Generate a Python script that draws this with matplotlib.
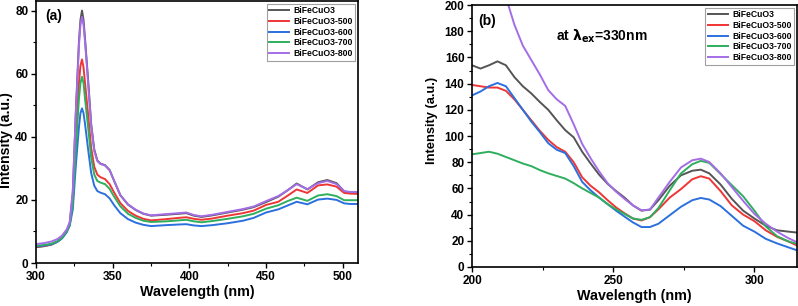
import numpy as np
import matplotlib
matplotlib.use("Agg")
from matplotlib import pyplot as plt
from matplotlib.ticker import MultipleLocator

plt.rcParams['font.family'] = ['Liberation Sans', 'DejaVu Sans']
plt.rcParams['font.weight'] = 'bold'

names = ['BiFeCuO3', 'BiFeCuO3-500', 'BiFeCuO3-600', 'BiFeCuO3-700', 'BiFeCuO3-800']
colors = ['#555555', '#f03535', '#2b70de', '#2fae5e', '#a46de6']

# (a) emission spectra
wl_a = [300, 305, 310, 314, 317, 320, 322, 324, 326, 328, 329, 330, 331, 332, 334, 336,
        338, 340, 342, 345, 348, 351, 355, 360, 365, 370, 375, 385, 393, 398, 403, 408,
        415, 425, 435, 442, 450, 458, 464, 470, 477, 484, 490, 496, 501, 505, 510]
a_base = [5.0, 5.3, 5.8, 6.8, 8.0, 10, 12.5, 22, 48, 70, 77, 80, 77, 71, 58, 44,
          36, 32.5, 31.5, 31, 29.5, 26, 21.5, 18.5, 16.8, 15.6, 15, 15.3, 15.6, 15.8, 15, 14.6,
          15.1, 16, 16.9, 17.7, 19.3, 21, 23, 25.2, 23.3, 25.6, 26.3, 25.3, 22.7, 22.3, 22.3]
a_500 = [5.2, 5.4, 5.9, 6.8, 8.0, 10, 12.3, 20, 40, 57, 62.5, 64.5, 62, 57, 47, 36.5,
         30.5, 28, 27.2, 26.6, 25, 22.3, 19, 16.5, 15, 14, 13.5, 13.9, 14.3, 14.5, 14, 13.7,
         14.1, 15, 15.8, 16.6, 18.4, 19.4, 21.3, 23.3, 22.2, 24.6, 24.9, 24.2, 22.2, 22, 21.9]
a_600 = [5.3, 5.5, 5.9, 6.7, 7.8, 9.7, 11.8, 17, 31, 43, 47.5, 49, 47.5, 44, 36, 28.5,
         24.5, 22.8, 22.3, 21.8, 20.5, 18.3, 15.8, 13.9, 12.8, 12.1, 11.7, 12, 12.2, 12.3, 11.9, 11.7,
         12, 12.6, 13.4, 14.3, 16, 17, 18.2, 19.4, 18.6, 20.1, 20.4, 20, 18.9, 18.7, 18.7]
a_700 = [5.5, 5.7, 6.1, 6.9, 8.0, 10, 12.2, 19, 36, 52, 57, 59, 57, 52, 43, 33.5,
         28, 26, 25.5, 25, 23.5, 21, 18, 15.6, 14.3, 13.4, 13, 13.2, 13.5, 13.7, 13.2, 12.9,
         13.3, 14, 14.8, 15.6, 17.2, 18.3, 19.6, 20.7, 19.7, 21.4, 21.8, 21.2, 19.9, 19.9, 19.9]
a_800 = [6.0, 6.3, 6.8, 7.6, 8.7, 10.6, 13, 23, 48, 69, 75.5, 78, 75.5, 70, 57, 43.5,
         35.5, 32.3, 31.4, 30.9, 29.4, 26, 21.5, 18.6, 16.9, 15.7, 15.1, 15.5, 15.8, 16, 15.2, 14.8,
         15.3, 16.2, 17.1, 17.9, 19.6, 21.2, 23, 25, 23.4, 25.3, 26, 25, 22.8, 22.5, 22.5]

# (b) excitation spectra at 330 nm
wl_b = [200, 203, 206, 209, 212, 215, 218, 221, 224, 227, 230, 233, 236, 239, 242, 245,
        248, 251, 254, 257, 260, 263, 266, 270, 274, 278, 281, 284, 288, 292, 296, 300,
        304, 308, 312, 315]
b_base = [154, 151.5, 154, 157, 154, 145, 138, 132.5, 126, 120, 112, 104.5, 99, 88, 79, 70.5,
          63.5, 58, 53, 47, 43, 43.8, 51, 62, 70, 73.5, 74.3, 71.5, 63, 52, 43, 37,
          31.5, 28, 27, 26.3]
b_500 = [139, 138, 137, 137, 134.5, 128, 120, 112, 104, 97, 91.5, 88, 80, 68.5, 62, 57,
         51, 45.5, 41, 37, 35.5, 38, 44, 53, 59.5, 67, 69.3, 67.5, 58, 47, 40, 35,
         28, 23, 19.5, 16.5]
b_600 = [131, 134, 138, 140.5, 138, 129, 120, 111, 103, 94.5, 89.5, 87, 77, 65, 58.5, 53,
         48, 43, 38.5, 34, 30.5, 30.5, 33, 39.5, 46, 51, 52.7, 51.5, 46.5, 39, 31.5, 27,
         21.5, 18, 15, 12.8]
b_700 = [86, 87, 88, 86.5, 84, 81.5, 79, 77, 74, 71.5, 69.5, 67.5, 64, 60, 56.5, 53,
         48, 44, 40.5, 37, 36, 38, 45, 58.5, 71.5, 78.5, 81, 79.5, 71, 62.5, 54, 43,
         31, 23.5, 19.5, 17.8]
b_800 = [280, 258, 238, 222, 206, 185, 169, 158, 147, 135, 128, 123, 109, 94, 83, 73,
         64, 57.5, 52, 47, 43.3, 43.8, 53, 65, 76, 81.5, 82.7, 80.2, 71.5, 61, 50.5, 40.5,
         33, 27, 22, 19]

fig = plt.figure(figsize=(7.98, 3.06), dpi=100)
ax1 = fig.add_axes([0.0451, 0.1405, 0.4035, 0.856])
ax2 = fig.add_axes([0.5915, 0.1275, 0.407, 0.856])

for ys, c, n in zip([a_base, a_500, a_600, a_700, a_800], colors, names):
    ax1.plot(wl_a, ys, color=c, lw=1.4, label=n)
for ys, c, n in zip([b_base, b_500, b_600, b_700, b_800], colors, names):
    ax2.plot(wl_b, ys, color=c, lw=1.4, label=n)

ax1.set_xlim(300, 510)
ax1.set_ylim(0, 83)
ax1.xaxis.set_major_locator(MultipleLocator(50))
ax1.xaxis.set_minor_locator(MultipleLocator(25))
ax1.yaxis.set_major_locator(MultipleLocator(20))
ax1.yaxis.set_minor_locator(MultipleLocator(10))
ax1.text(0.03, 0.97, '(a)', transform=ax1.transAxes, fontsize=10, fontweight='bold', va='top')
ax1.set_ylabel('Intensity (a.u.)', fontsize=10.2, fontweight='bold', labelpad=1)
ax1.yaxis.set_label_coords(-0.071, 0.47)

ax2.set_xlim(200, 315)
ax2.set_ylim(0, 200)
ax2.xaxis.set_major_locator(MultipleLocator(50))
ax2.xaxis.set_minor_locator(MultipleLocator(25))
ax2.yaxis.set_major_locator(MultipleLocator(20))
ax2.yaxis.set_minor_locator(MultipleLocator(10))
ax2.text(0.018, 0.965, '(b)', transform=ax2.transAxes, fontsize=10, fontweight='bold', va='top')
ax2.text(0.26, 0.915, r'at $\mathbf{\lambda_{ex}}$=330nm', transform=ax2.transAxes,
         fontsize=10, fontweight='bold', va='top')
ax2.set_ylabel('Intensity (a.u.)', fontsize=9.3, fontweight='bold', labelpad=1)
ax2.yaxis.set_label_coords(-0.104, 0.56)

for ax in (ax1, ax2):
    ax.set_xlabel('Wavelength (nm)', fontsize=10.3, fontweight='bold', labelpad=2)
    ax.tick_params(which='major', direction='out', length=3.5, width=1, labelsize=8.5, pad=2)
    ax.tick_params(which='minor', direction='out', length=2, width=0.8)
    for lab in ax.get_xticklabels() + ax.get_yticklabels():
        lab.set_fontweight('bold')
    for s in ax.spines.values():
        s.set_linewidth(1.2)
    leg = ax.legend(loc='upper right', fontsize=6.2, fancybox=False, edgecolor='#888888',
                    handlelength=2.3, handletextpad=0.5, borderpad=0.3, labelspacing=0.2,
                    borderaxespad=0.3)
    leg.get_frame().set_linewidth(0.8)
    for t in leg.get_texts():
        t.set_fontweight('bold')

fig.savefig('out.png', dpi=100)
